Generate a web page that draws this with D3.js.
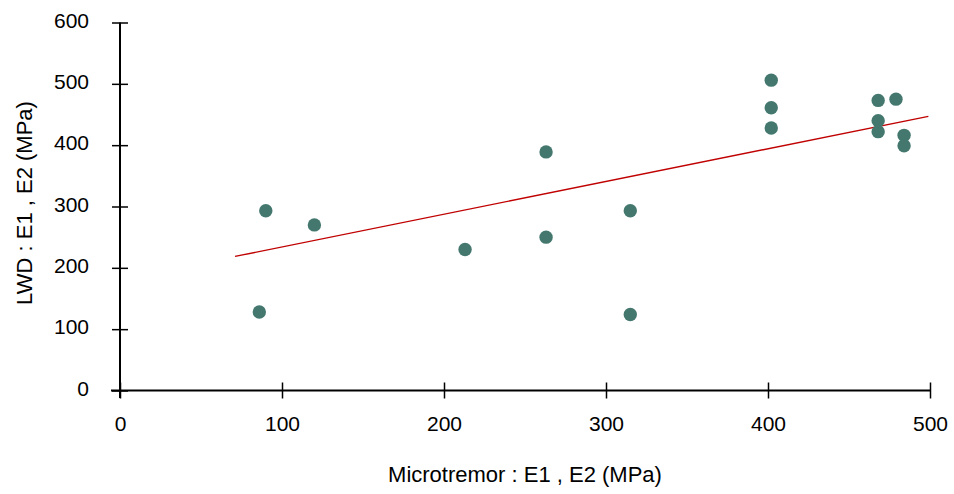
<!DOCTYPE html>
<html><head><meta charset="utf-8">
<script src="https://cdn.jsdelivr.net/npm/d3@7"></script>
<style>
body{margin:0;background:#fff;}
text{font-family:"Liberation Sans",Arial,sans-serif;}
</style></head>
<body><svg id="c" width="954" height="494"></svg>
<script>
const xValues = [86, 90, 120, 213, 263, 263, 315, 315, 402, 402, 402, 468, 468, 468, 479, 484, 484];
const yValues = [128, 293, 270, 230, 389, 250, 293, 124, 506, 461, 428, 473, 440, 422, 475, 416, 399];
const trendX = [71, 499];
const trendSlope = 0.5337;
const trendIntercept = 180.7;
const xTicks = [0, 100, 200, 300, 400, 500];
const yTicks = [0, 100, 200, 300, 400, 500, 600];
const xTitle = "Microtremor : E1 , E2 (MPa)";
const yTitle = "LWD : E1 , E2 (MPa)";

const svg = d3.select("#c");
const x = d3.scaleLinear().domain([0, 500]).range([120, 930]);
const y = d3.scaleLinear().domain([0, 600]).range([390.5, 22.5]);
const FONT = "Liberation Sans";

// axes
const gx = svg.append("g").attr("transform", `translate(0,${y(0)})`)
  .call(d3.axisBottom(x).tickValues(xTicks).tickSize(8).tickPadding(0));
gx.select(".domain").attr("d", `M111,0H${x(500)}`).attr("stroke", "#000").attr("stroke-width", 2);
gx.selectAll(".tick line").attr("y1", -8).attr("y2", 8).attr("stroke-width", 1.5);
gx.selectAll(".tick text").attr("y", 40).attr("dy", null)
  .attr("font-size", 21).attr("font-family", FONT).attr("fill", "#000");

const gy = svg.append("g").attr("transform", `translate(${x(0)},0)`)
  .call(d3.axisLeft(y).tickValues(yTicks).tickSize(8).tickPadding(0));
gy.select(".domain").attr("d", `M0,${y(600)}V398`).attr("stroke", "#000").attr("stroke-width", 2);
gy.selectAll(".tick line").attr("x1", -8).attr("x2", 8).attr("stroke-width", 1.5);
gy.selectAll(".tick text").attr("x", -31).attr("dy", null).attr("y", 4.5)
  .attr("font-size", 21).attr("font-family", FONT).attr("fill", "#000");

// trend line
svg.append("line")
  .attr("x1", x(trendX[0])).attr("y1", y(trendIntercept + trendSlope * trendX[0]))
  .attr("x2", x(trendX[1])).attr("y2", y(trendIntercept + trendSlope * trendX[1]))
  .attr("stroke", "#c00000").attr("stroke-width", 1.4);

// points
svg.append("g").selectAll("circle").data(xValues.map((v, i) => [v, yValues[i]]))
  .join("circle")
  .attr("cx", d => x(d[0])).attr("cy", d => y(d[1])).attr("r", 6.7)
  .attr("fill", "#44786f");

// titles
svg.append("text").attr("x", 525).attr("y", 482).attr("text-anchor", "middle")
  .attr("font-size", 22).text(xTitle);
svg.append("text").attr("transform", `translate(32,203) rotate(-90)`)
  .attr("text-anchor", "middle").attr("font-size", 22).text(yTitle);
</script></body></html>
